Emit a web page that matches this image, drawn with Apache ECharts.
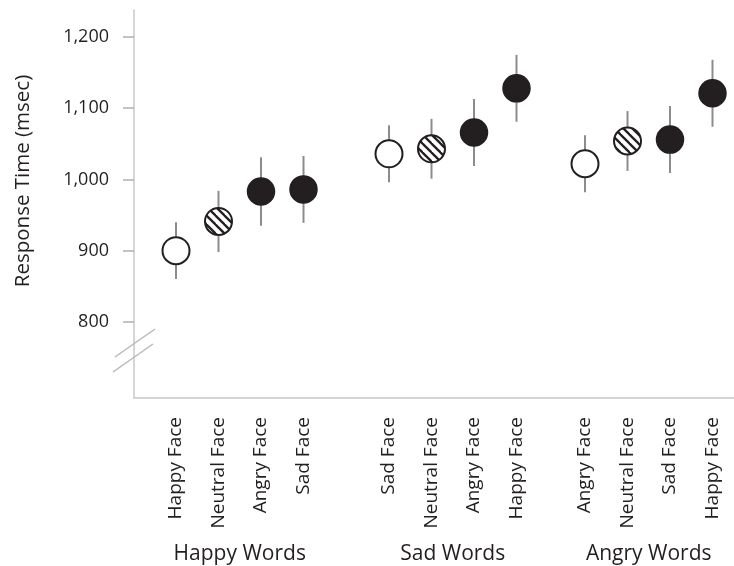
<!DOCTYPE html>
<html>
<head>
<meta charset="utf-8">
<script src="https://cdn.jsdelivr.net/npm/echarts@6/dist/echarts.min.js"></script>
<style>
html,body{margin:0;padding:0;background:#fff;}
#chart{width:734px;height:566px;}
</style>
</head>
<body>
<div id="chart"></div>
<script>
// ---- data ----
const groupNames = ['Happy Words', 'Sad Words', 'Angry Words'];
const happyWordFaces = ['Happy Face', 'Neutral Face', 'Angry Face', 'Sad Face'];
const sadWordFaces = ['Sad Face', 'Neutral Face', 'Angry Face', 'Happy Face'];
const angryWordFaces = ['Angry Face', 'Neutral Face', 'Sad Face', 'Happy Face'];
const happyWordRT = [900, 941, 983, 986];
const sadWordRT = [1036, 1043, 1066, 1128];
const angryWordRT = [1022, 1054, 1056, 1121];
const happyWordErr = [40, 43, 48, 47];
const sadWordErr = [40, 42, 47, 47];
const angryWordErr = [40, 42, 47, 47];
const markerKinds = ['open', 'hatched', 'filled', 'filled'];
const yTicks = [800, 900, 1000, 1100, 1200];

const faceSets = [happyWordFaces, sadWordFaces, angryWordFaces];
const rtSets = [happyWordRT, sadWordRT, angryWordRT];
const errSets = [happyWordErr, sadWordErr, angryWordErr];

// ---- hatch pattern ----
const T = 9;
const tile = document.createElement('canvas');
tile.width = T; tile.height = T;
const tctx = tile.getContext('2d');
tctx.fillStyle = '#ffffff';
tctx.fillRect(0, 0, T, T);
tctx.strokeStyle = '#231f20';
tctx.lineWidth = 2.3;
for (let k = -1; k <= 1; k++) {
  tctx.beginPath();
  tctx.moveTo(-2, -2 + k * T);
  tctx.lineTo(T + 2, T + 2 + k * T);
  tctx.stroke();
}

const ink = '#231f20';
const markerFill = {
  open: '#ffffff',
  hatched: { image: tile, repeat: 'repeat' },
  filled: ink
};
const R = 13.5;

const YMIN = 693, YMAX = 1238;
const FONT = 'Open Sans';
const TOP = 10, BOTTOM = 168;
const groupLefts = [154.75, 367.75, 563.75];
const groupWidth = 170;

const grids = [{ left: 134, right: 0, top: TOP, bottom: BOTTOM, outerBoundsMode: 'none' }];
const xAxes = [{
  gridIndex: 0, type: 'category', data: [''],
  axisLine: { show: true, lineStyle: { color: '#c8c8c8', width: 1.5 } },
  axisTick: { show: false }, axisLabel: { show: false }, splitLine: { show: false }
}];
const yAxes = [{
  gridIndex: 0, type: 'value', min: YMIN, max: YMAX,
  name: 'Response Time (msec)', nameLocation: 'middle', nameGap: 100,
  nameTextStyle: { fontFamily: FONT, fontSize: 20.5, color: '#231f20', padding: [0, 0, 0, 46] },
  axisLine: { show: true, lineStyle: { color: '#c8c8c8', width: 1.5 } },
  axisTick: { show: true, length: 11, customValues: yTicks, lineStyle: { color: '#b0b0b0', width: 1.5 } },
  axisLabel: {
    show: true, customValues: yTicks, margin: 25,
    fontFamily: FONT, fontSize: 18, color: '#231f20',
    formatter: v => v.toLocaleString('en-US')
  },
  splitLine: { show: false }
}];
const series = [];

for (let g = 0; g < 3; g++) {
  const gi = g + 1;
  grids.push({ left: groupLefts[g], width: groupWidth, top: TOP, bottom: BOTTOM, outerBoundsMode: 'none' });
  xAxes.push({
    gridIndex: gi, type: 'category', data: faceSets[g], boundaryGap: true,
    name: groupNames[g], nameLocation: 'middle', nameGap: 146,
    nameTextStyle: { fontFamily: FONT, fontSize: 21, color: '#231f20' },
    axisLine: { show: false }, axisTick: { show: false },
    axisLabel: { rotate: 90, margin: 19, interval: 0, fontFamily: FONT, fontSize: 19, color: '#231f20' },
    splitLine: { show: false }
  });
  yAxes.push({
    gridIndex: gi, type: 'value', min: YMIN, max: YMAX, show: false,
    splitLine: { show: false }
  });
  series.push({
    type: 'custom', xAxisIndex: gi, yAxisIndex: gi, z: 2,
    encode: { x: 0, y: [1, 2, 3] },
    data: rtSets[g].map((m, i) => [i, m, m - errSets[g][i], m + errSets[g][i]]),
    renderItem: function (params, api) {
      const idx = params.dataIndex;
      const c = api.coord([api.value(0), api.value(1)]);
      const lo = api.coord([api.value(0), api.value(2)]);
      const hi = api.coord([api.value(0), api.value(3)]);
      const kind = markerKinds[idx];
      return {
        type: 'group',
        children: [
          {
            type: 'line',
            shape: { x1: lo[0], y1: lo[1], x2: hi[0], y2: hi[1] },
            style: { stroke: '#8c8c8c', lineWidth: 2 }
          },
          {
            type: 'circle',
            shape: { cx: c[0], cy: c[1], r: R },
            style: { fill: markerFill[kind], stroke: ink, lineWidth: kind === 'filled' ? 1.5 : 2 }
          }
        ]
      };
    },
    silent: true
  });
}

const chart = echarts.init(document.getElementById('chart'), null, { renderer: 'canvas' });
chart.setOption({
  animation: false,
  backgroundColor: '#fff',
  grid: grids,
  xAxis: xAxes,
  yAxis: yAxes,
  series: series,
  graphic: [
    { type: 'line', shape: { x1: 115, y1: 357, x2: 155, y2: 329 }, style: { stroke: '#b8b8b8', lineWidth: 1.5 }, z: 10 },
    { type: 'line', shape: { x1: 113, y1: 372, x2: 153, y2: 344 }, style: { stroke: '#b8b8b8', lineWidth: 1.5 }, z: 10 }
  ]
});
</script>
</body>
</html>
